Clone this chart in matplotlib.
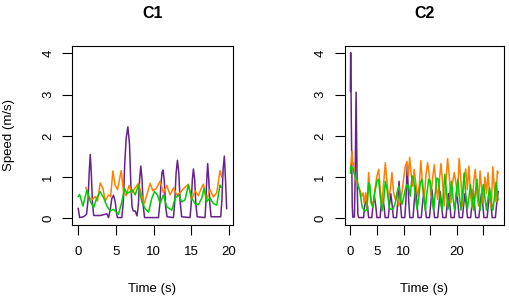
import matplotlib
matplotlib.use("Agg")
import matplotlib.pyplot as plt

plt.rcParams["font.family"] = ["Liberation Sans", "DejaVu Sans"]

PURPLE, ORANGE, GREEN = "#68228B", "#FF7F00", "#00CD00"

# ---- C1 ----
c1_purple_t = [0.0, 0.18, 0.71, 1.10, 1.30, 1.45, 1.59, 1.73, 1.88, 2.05, 2.91, 3.80, 4.02, 4.25,
               4.45, 4.68, 4.90, 5.12, 5.21, 5.78, 5.98, 6.16, 6.36, 6.58, 6.80, 6.98, 7.14, 7.30,
               7.55, 7.80, 7.98, 8.14, 8.30, 8.46, 8.62, 8.80, 10.64, 10.82, 10.98, 11.12, 11.26,
               11.42, 11.58, 11.78, 12.63, 12.80, 12.98, 13.16, 13.34, 13.52, 13.72, 14.83, 14.98,
               15.14, 15.28, 15.44, 15.60, 15.78, 16.82, 16.92, 17.05, 17.17, 17.31, 17.46, 17.62,
               18.90, 19.06, 19.22, 19.38, 19.52, 19.69]
c1_purple_v = [0.24, 0.02, 0.04, 0.10, 0.45, 1.10, 1.55, 1.10, 0.40, 0.07, 0.07, 0.11, 0.02, 0.22,
               0.48, 0.56, 0.40, 0.08, 0.02, 0.02, 0.40, 1.30, 1.95, 2.22, 1.80, 0.80, 0.28, 0.18,
               0.18, 0.06, 0.35, 0.95, 1.27, 0.95, 0.30, 0.02, 0.02, 0.35, 0.85, 1.12, 1.17,
               0.90, 0.30, 0.04, 0.02, 0.40, 1.10, 1.41, 1.10, 0.40, 0.04, 0.02, 0.35,
               0.95, 1.20, 0.95, 0.35, 0.04, 0.02, 0.35, 0.95, 1.33, 0.95, 0.35, 0.04,
               0.04, 0.45, 1.20, 1.51, 1.00, 0.24]

c1_orange_t = [1.0, 1.37, 1.81, 2.25, 2.56, 2.91, 3.27, 3.58, 4.02, 4.30, 4.59, 4.90, 5.21, 5.70,
               6.00, 6.36, 6.75, 7.11, 7.55, 7.99, 8.43, 8.74, 9.18, 9.54, 9.89, 10.33, 10.86,
               11.30, 11.74, 12.19, 12.63, 13.07, 13.51, 13.95, 14.61, 15.05, 15.50, 15.94, 16.25,
               16.60, 17.04, 17.48, 17.92, 18.37, 18.81, 19.03]
c1_orange_v = [0.75, 0.53, 0.45, 0.53, 0.42, 0.86, 0.73, 0.42, 0.57, 0.53, 1.15, 0.80, 0.70, 1.16,
               0.65, 0.55, 0.80, 0.62, 0.74, 0.85, 0.55, 0.35, 0.62, 0.85, 0.67, 0.72, 0.90,
               0.62, 0.80, 0.57, 0.74, 0.57, 0.62, 0.72, 0.83, 0.45, 0.67, 0.55, 0.70,
               0.83, 0.45, 0.70, 0.52, 0.62, 1.16, 1.00]

c1_green_t = [0.0, 0.18, 0.62, 1.15, 1.59, 2.03, 2.47, 2.91, 3.36, 3.80, 4.24, 4.68, 5.34, 5.78,
              6.14, 6.45, 6.89, 7.20, 7.55, 7.99, 8.43, 8.87, 9.32, 9.76, 10.11, 10.51, 10.86,
              11.30, 11.74, 12.41, 12.85, 13.29, 13.73, 14.17, 14.61, 15.05, 15.50, 15.94, 16.38,
              16.69, 17.04, 17.48, 17.92, 18.37, 18.81, 18.94]
c1_green_v = [0.53, 0.58, 0.30, 0.69, 0.42, 0.26, 0.50, 0.65, 0.50, 0.30, 0.18, 0.22, 0.10, 0.40,
              0.73, 0.60, 0.65, 0.69, 0.57, 0.81, 0.40, 0.24, 0.15, 0.49, 0.65, 0.57, 0.36,
              0.57, 0.28, 0.20, 0.49, 0.57, 0.40, 0.45, 0.81, 0.49, 0.36, 0.33, 0.49,
              0.73, 0.40, 0.50, 0.36, 0.32, 0.81, 0.76]

# ---- C2 ----
c2_purple_t = [0.0, 0.05, 0.2, 0.35, 0.45, 0.75, 0.9, 1.07, 1.25, 1.4, 1.55,
               2.48, 2.68, 2.95, 3.23, 3.43, 4.03, 4.23, 4.5, 4.78, 4.98,
               5.58, 5.78, 6.05, 6.33, 6.53, 7.13, 7.33, 7.6, 7.88, 8.08,
               8.68, 8.88, 9.15, 9.43, 9.63, 10.23, 10.43, 10.7, 10.98, 11.18,
               11.78, 11.98, 12.25, 12.53, 12.73, 13.33, 13.53, 13.8, 14.08, 14.28,
               14.88, 15.08, 15.35, 15.63, 15.83, 16.43, 16.63, 16.9, 17.18, 17.38,
               17.98, 18.18, 18.45, 18.73, 18.93, 19.53, 19.73, 20.0, 20.28, 20.48,
               21.08, 21.28, 21.55, 21.83, 22.03, 22.63, 22.83, 23.1, 23.38, 23.58,
               24.18, 24.38, 24.65, 24.93, 25.13, 25.73, 25.93, 26.2, 26.48, 26.68,
               27.28, 27.48, 27.8]
c2_purple_v = [3.1, 4.02, 2.0, 0.3, 0.03, 0.03, 1.0, 3.06, 1.0, 0.1, 0.02,
               0.02, 0.3, 0.45, 0.3, 0.02, 0.02, 0.3, 0.55, 0.3, 0.02,
               0.02, 0.3, 0.5, 0.3, 0.02, 0.02, 0.3, 0.6, 0.3, 0.02,
               0.02, 0.35, 0.9, 0.35, 0.02, 0.02, 0.4, 1.3, 0.4, 0.02,
               0.02, 0.35, 0.8, 0.35, 0.02, 0.02, 0.3, 0.65, 0.3, 0.02,
               0.02, 0.3, 0.7, 0.3, 0.02, 0.02, 0.3, 0.65, 0.3, 0.02,
               0.02, 0.3, 0.6, 0.3, 0.02, 0.02, 0.3, 0.65, 0.3, 0.02,
               0.02, 0.3, 0.6, 0.3, 0.02, 0.02, 0.3, 0.7, 0.3, 0.02,
               0.02, 0.3, 0.6, 0.3, 0.02, 0.02, 0.3, 0.65, 0.3, 0.02,
               0.02, 0.3, 0.65]

c2_orange_t = [0.0, 0.12, 0.3, 0.45, 0.6, 0.8, 1.0, 1.25, 1.5, 1.87, 2.1, 2.37, 2.6, 2.88, 3.1,
               3.44, 3.75, 4.06, 4.38, 4.7, 5.0, 5.32, 5.63, 5.95, 6.26, 6.57, 6.9, 7.2, 7.5,
               7.82, 8.13, 8.45, 8.76, 9.08, 9.4, 9.7, 10.0, 10.33, 10.65, 10.9, 11.15, 11.4,
               11.71, 12.0, 12.3, 12.65, 12.95, 13.25, 13.6, 13.9, 14.2, 14.53, 14.85, 15.15,
               15.45, 15.78, 16.1, 16.4, 16.7, 17.04, 17.35, 17.66, 17.95, 18.29, 18.6, 18.92,
               19.22, 19.54, 19.85, 20.17, 20.45, 20.8, 21.1, 21.4, 21.7, 22.0, 22.3, 22.6,
               22.9, 23.2, 23.5, 23.8, 24.1, 24.4, 24.7, 25.0, 25.3, 25.6, 25.9, 26.2, 26.5,
               26.8, 27.1, 27.4, 27.65, 27.8]
c2_orange_v = [1.2, 1.35, 1.63, 1.3, 1.35, 1.05, 0.95, 0.86, 0.78, 0.66, 0.54, 0.62, 0.38, 0.62, 0.26,
               1.11, 0.54, 0.34, 0.42, 0.78, 1.03, 1.19, 0.7, 0.34, 0.86, 1.35, 0.86, 0.46, 0.7,
               1.11, 0.62, 0.46, 0.62, 0.3, 0.42, 0.62, 0.95, 1.27, 1.38, 1.03, 1.48, 1.11,
               0.78, 1.19, 0.86, 0.54, 0.78, 1.4, 0.78, 0.46, 1.05, 1.35, 1.03, 0.54,
               0.95, 1.3, 0.86, 0.46, 0.86, 1.33, 0.86, 0.3, 0.86, 1.45, 1.03, 0.38,
               0.86, 1.11, 0.86, 0.54, 1.45, 0.9, 0.3, 0.95, 1.2, 0.7, 1.27, 0.6,
               0.25, 0.9, 1.19, 0.6, 0.3, 1.15, 0.7, 0.35, 1.0, 0.6, 1.11, 0.5, 0.25,
               1.25, 0.7, 0.4, 1.15, 1.1]

c2_green_t = [0.0, 0.12, 0.3, 0.45, 0.6, 0.9, 1.25, 1.5, 1.75, 2.0, 2.25, 2.5, 2.8, 3.1, 3.44,
              3.65, 3.9, 4.25, 4.57, 5.0, 5.3, 5.6, 5.95, 6.26, 6.57, 6.9, 7.32, 7.6, 7.95, 8.26,
              8.6, 8.89, 9.14, 9.45, 9.7, 10.0, 10.33, 10.65, 10.95, 11.27, 11.59, 11.9, 12.21,
              12.53, 12.84, 13.15, 13.46, 13.78, 14.09, 14.4, 14.72, 15.03, 15.34, 15.66, 15.97,
              16.28, 16.6, 16.9, 17.22, 17.5, 17.75, 18.05, 18.35, 18.7, 19.0, 19.3, 19.6, 19.9,
              20.2, 20.5, 20.8, 21.1, 21.4, 21.7, 22.0, 22.3, 22.6, 22.9, 23.2, 23.5, 23.8, 24.1,
              24.4, 24.7, 25.0, 25.3, 25.6, 25.9, 26.2, 26.5, 26.8, 27.1, 27.4, 27.7, 27.8]
c2_green_v = [1.1, 1.27, 1.2, 1.22, 1.15, 1.0, 0.95, 0.78, 0.66, 0.46, 0.26, 0.22, 0.18, 0.22, 0.86,
              0.8, 0.38, 0.26, 0.62, 0.9, 0.95, 0.54, 0.18, 0.42, 0.9, 0.7, 0.26, 0.22, 0.22, 0.3,
              0.46, 0.7, 0.78, 0.46, 0.34, 0.5, 0.7, 0.82, 0.78, 0.54, 1.03, 0.98, 0.54,
              0.22, 0.46, 0.86, 0.95, 0.58, 0.18, 0.62, 0.95, 0.9, 0.46, 0.18, 0.62,
              0.98, 0.94, 0.46, 0.18, 0.6, 1.07, 0.7, 0.22, 0.55, 0.9, 0.5, 0.2, 0.6,
              0.95, 0.55, 0.2, 0.6, 1.1, 0.6, 0.22, 0.5, 0.82, 0.5, 0.2, 0.6, 0.95, 0.5,
              0.2, 0.55, 0.82, 0.5, 0.2, 0.5, 0.74, 0.4, 0.2, 0.5, 0.88, 0.5, 0.45]

c1_xticks = [0, 5, 10, 15, 20]
c1_xlabels = ["0", "5", "10", "15", "20"]
c2_xticks = [0, 5, 10, 15, 20, 25]
c2_xlabels = ["0", "5", "10", "", "20", ""]
yticks = [0, 1, 2, 3, 4]

W, H = 510, 301
fig = plt.figure(figsize=(W / 100, H / 100), dpi=100)


def panel(left, right, title, series, xlim, xticks, xlabels):
    ax = fig.add_axes([left / W, 1 - 225 / H, (right - left) / W, (225 - 46) / H])
    for t, v, c in series:
        ax.plot(t, v, color=c, lw=1.1)
    ax.set_xlim(*xlim)
    ax.set_ylim(-0.16, 4.18)
    ax.set_xticks(xticks)
    ax.set_xticklabels(xlabels)
    ax.set_yticks(yticks)
    ax.tick_params(direction="out", length=7, width=0.8, labelsize=9.5, pad=8)
    ax.tick_params(axis="y", labelrotation=90, pad=6)
    for lab in ax.get_yticklabels():
        lab.set_va("center")
    for s in ax.spines.values():
        s.set_linewidth(0.8)
    cx = (left + right) / 2 / W
    fig.text(cx, 1 - 13 / H, title, ha="center", va="center", fontsize=11.5, weight="bold")
    fig.text(cx, 1 - 289 / H, "Time (s)", ha="center", va="center", fontsize=9.5)
    return ax


panel(72.3, 232.7, "C1",
      [(c1_purple_t, c1_purple_v, PURPLE), (c1_orange_t, c1_orange_v, ORANGE),
       (c1_green_t, c1_green_v, GREEN)],
      (-0.79, 20.49), c1_xticks, c1_xlabels)
panel(344.5, 504.0, "C2",
      [(c2_purple_t, c2_purple_v, PURPLE), (c2_orange_t, c2_orange_v, ORANGE),
       (c2_green_t, c2_green_v, GREEN)],
      (-1.11, 28.9), c2_xticks, c2_xlabels)

fig.text(9 / W, 1 - 135 / H, "Speed (m/s)", rotation=90, ha="center", va="center", fontsize=9.5)

fig.savefig("out.png", dpi=100)
